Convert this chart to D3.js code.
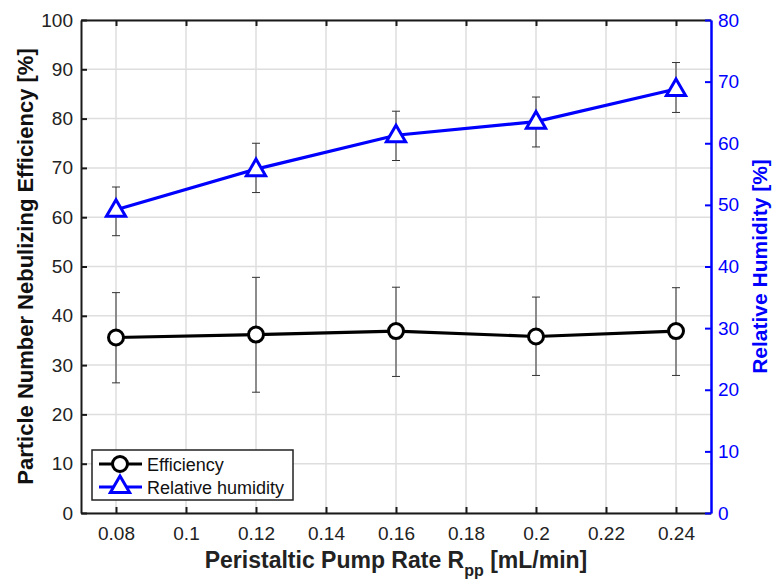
<!DOCTYPE html>
<html>
<head>
<meta charset="utf-8">
<script src="https://cdn.jsdelivr.net/npm/d3@7"></script>
<style>
  body { margin: 0; background: #fff; }
  svg { display: block; font-family: "Liberation Sans", Arial, Helvetica, sans-serif; }
</style>
</head>
<body>
<div id="chart"></div>
<script>
const W = 773, H = 583;
const M = { left: 81, right: 711, top: 20, bottom: 513 };

// data
const rate = [0.08, 0.12, 0.16, 0.2, 0.24];
const effMean = [35.6, 36.2, 36.9, 35.8, 36.9];
const effLow  = [26.4, 24.5, 27.7, 27.9, 27.9];
const effHigh = [44.7, 47.8, 45.8, 43.8, 45.7];
const rhMean = [49.2, 55.8, 61.3, 63.5, 68.8];
const rhLow  = [45.0, 52.0, 57.2, 59.4, 65.0];
const rhHigh = [52.9, 60.0, 65.2, 67.5, 73.1];

const xTicks = [0.08, 0.1, 0.12, 0.14, 0.16, 0.18, 0.2, 0.22, 0.24];
const yLeftTicks = [0, 10, 20, 30, 40, 50, 60, 70, 80, 90, 100];
const yRightTicks = [0, 10, 20, 30, 40, 50, 60, 70, 80];

const BLUE = '#0000ff';
const GRID = '#dedede';

const x = d3.scaleLinear().domain([0.07, 0.25]).range([M.left, M.right]);
const yL = d3.scaleLinear().domain([0, 100]).range([M.bottom, M.top]);
const yR = d3.scaleLinear().domain([0, 80]).range([M.bottom, M.top]);

const svg = d3.select('#chart').append('svg')
  .attr('width', W).attr('height', H);

// grid
const grid = svg.append('g').attr('stroke', GRID).attr('stroke-width', 1.5);
xTicks.forEach(t => {
  grid.append('line').attr('x1', x(t)).attr('x2', x(t)).attr('y1', M.top).attr('y2', M.bottom);
});
yLeftTicks.forEach(t => {
  grid.append('line').attr('x1', M.left).attr('x2', M.right).attr('y1', yL(t)).attr('y2', yL(t));
});

// axes
const fmt = d => String(+d.toFixed(2));
const xAxis = svg.append('g').attr('transform', `translate(0,${M.bottom})`)
  .call(d3.axisBottom(x).tickValues(xTicks).tickFormat(fmt).tickSizeInner(-6).tickSizeOuter(0).tickPadding(14));
const xTop = svg.append('g').attr('transform', `translate(0,${M.top})`)
  .call(d3.axisTop(x).tickValues(xTicks).tickFormat('').tickSizeInner(-6).tickSizeOuter(0));
const yAxisL = svg.append('g').attr('transform', `translate(${M.left},0)`)
  .call(d3.axisLeft(yL).tickValues(yLeftTicks).tickSizeInner(-6).tickSizeOuter(0).tickPadding(8));
const yAxisR = svg.append('g').attr('transform', `translate(${M.right},0)`)
  .call(d3.axisRight(yR).tickValues(yRightTicks).tickSizeInner(-6).tickSizeOuter(0).tickPadding(7));

[xAxis, xTop, yAxisL].forEach(g => {
  g.select('.domain').attr('stroke', '#1a1a1a').attr('stroke-width', 2);
  g.selectAll('.tick line').attr('stroke', '#1a1a1a').attr('stroke-width', 2);
  g.selectAll('text').attr('fill', '#222').attr('font-size', 19).attr('font-family', null);
});
yAxisR.select('.domain').attr('stroke', BLUE).attr('stroke-width', 2.5);
yAxisR.selectAll('.tick line').attr('stroke', BLUE).attr('stroke-width', 2);
yAxisR.selectAll('text').attr('fill', BLUE).attr('font-size', 19).attr('font-family', null);

// error bars
function errorBars(low, high, ys) {
  const g = svg.append('g').attr('stroke', '#333').attr('stroke-width', 1);
  rate.forEach((r, i) => {
    const cx = x(r);
    g.append('line').attr('x1', cx).attr('x2', cx).attr('y1', ys(low[i])).attr('y2', ys(high[i]));
    g.append('line').attr('x1', cx - 4).attr('x2', cx + 4).attr('y1', ys(low[i])).attr('y2', ys(low[i]));
    g.append('line').attr('x1', cx - 4).attr('x2', cx + 4).attr('y1', ys(high[i])).attr('y2', ys(high[i]));
  });
}
errorBars(effLow, effHigh, yL);
errorBars(rhLow, rhHigh, yR);

// lines
const lineL = d3.line().x((d, i) => x(rate[i])).y(d => yL(d));
const lineR = d3.line().x((d, i) => x(rate[i])).y(d => yR(d));

svg.append('path').datum(effMean).attr('d', lineL)
  .attr('fill', 'none').attr('stroke', '#000').attr('stroke-width', 3.2);
svg.append('path').datum(rhMean).attr('d', lineR)
  .attr('fill', 'none').attr('stroke', BLUE).attr('stroke-width', 3.2);

const tri = d3.symbol().type(d3.symbolTriangle).size(160);

svg.append('g').selectAll('circle').data(effMean).join('circle')
  .attr('cx', (d, i) => x(rate[i])).attr('cy', d => yL(d)).attr('r', 7.5)
  .attr('fill', '#fff').attr('stroke', '#000').attr('stroke-width', 3);

svg.append('g').selectAll('path').data(rhMean).join('path')
  .attr('d', tri)
  .attr('transform', (d, i) => `translate(${x(rate[i])},${yR(d) + 1})`)
  .attr('fill', '#fff').attr('stroke', BLUE).attr('stroke-width', 3);

// axis titles
svg.append('text')
  .attr('x', 396).attr('y', 568)
  .attr('text-anchor', 'middle').attr('font-size', 23).attr('font-weight', 'bold').attr('fill', '#222')
  .call(t => {
    t.append('tspan').text('Peristaltic Pump Rate R');
    t.append('tspan').attr('font-size', 16).attr('dy', 8).text('pp');
    t.append('tspan').attr('dy', -8).text('  [mL/min]');
  });

svg.append('text')
  .attr('transform', `translate(33,${(M.top + M.bottom) / 2}) rotate(-90)`)
  .attr('text-anchor', 'middle').attr('font-size', 22).attr('font-weight', 'bold').attr('fill', '#111')
  .text('Particle Number Nebulizing Efficiency [%]');

svg.append('text')
  .attr('transform', `translate(767,${(M.top + M.bottom) / 2}) rotate(-90)`)
  .attr('text-anchor', 'middle').attr('font-size', 21).attr('font-weight', 'bold').attr('fill', BLUE)
  .text('Relative Humidity [%]');

// legend
const lg = svg.append('g');
lg.append('rect').attr('x', 92).attr('y', 450).attr('width', 201).attr('height', 50)
  .attr('fill', '#fff').attr('stroke', '#222').attr('stroke-width', 1.5);
lg.append('line').attr('x1', 99).attr('x2', 142).attr('y1', 464).attr('y2', 464)
  .attr('stroke', '#000').attr('stroke-width', 3);
lg.append('circle').attr('cx', 120).attr('cy', 464).attr('r', 7.5)
  .attr('fill', '#fff').attr('stroke', '#000').attr('stroke-width', 3);
lg.append('line').attr('x1', 99).attr('x2', 142).attr('y1', 487).attr('y2', 487)
  .attr('stroke', BLUE).attr('stroke-width', 3);
lg.append('path').attr('d', tri).attr('transform', 'translate(120,487)')
  .attr('fill', '#fff').attr('stroke', BLUE).attr('stroke-width', 3);
lg.append('text').attr('x', 147).attr('y', 471).attr('font-size', 18).attr('fill', '#111').text('Efficiency');
lg.append('text').attr('x', 147).attr('y', 494).attr('font-size', 18).attr('fill', '#111').text('Relative humidity');
</script>
</body>
</html>
